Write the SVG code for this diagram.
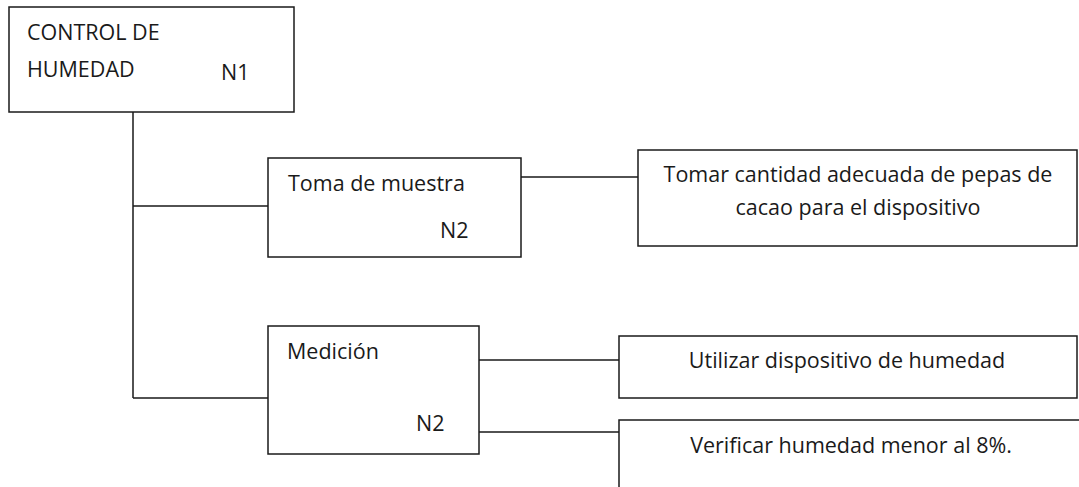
<svg xmlns="http://www.w3.org/2000/svg" width="1079" height="487" viewBox="0 0 1079 487">
<style>
.box{fill:#fff;stroke:#1a1a1a;stroke-width:1.5}
.ln{fill:none;stroke:#1a1a1a;stroke-width:1.5}
.t{font-family:"Open Sans","Liberation Sans",sans-serif;font-size:21.5px;fill:#1a1a1a}
.c{text-anchor:middle}
</style>
<rect width="1079" height="487" fill="#fff"/>
<g id="connectors">
<path class="ln" d="M133 112V398M133 206H268M133 398H268M521 177H638M479 360H619M479 432H619"/>
</g>
<g id="n1">
<rect class="box" x="9" y="7" width="285" height="105"/>
<text class="t" x="27" y="40">CONTROL DE</text>
<text class="t" x="27" y="77">HUMEDAD</text>
<text class="t" x="221" y="80">N1</text>
</g>
<g id="n2a">
<rect class="box" x="268" y="158" width="253" height="99"/>
<text class="t" x="288" y="191">Toma de muestra</text>
<text class="t" x="440" y="238">N2</text>
</g>
<g id="n3a">
<rect class="box" x="638" y="150" width="439" height="96"/>
<text class="t c" x="858" y="182">Tomar cantidad adecuada de pepas de</text>
<text class="t c" x="858" y="215">cacao para el dispositivo</text>
</g>
<g id="n2b">
<rect class="box" x="268" y="326" width="211" height="128"/>
<text class="t" x="287" y="359">Medición</text>
<text class="t" x="416" y="431">N2</text>
</g>
<g id="n3b">
<rect class="box" x="619" y="336" width="458" height="62"/>
<text class="t c" x="847" y="368">Utilizar dispositivo de humedad</text>
</g>
<g id="n3c">
<path class="ln" d="M1085 420H619V495"/>
<text class="t c" x="851" y="453">Verificar humedad menor al 8%.</text>
</g>
</svg>
